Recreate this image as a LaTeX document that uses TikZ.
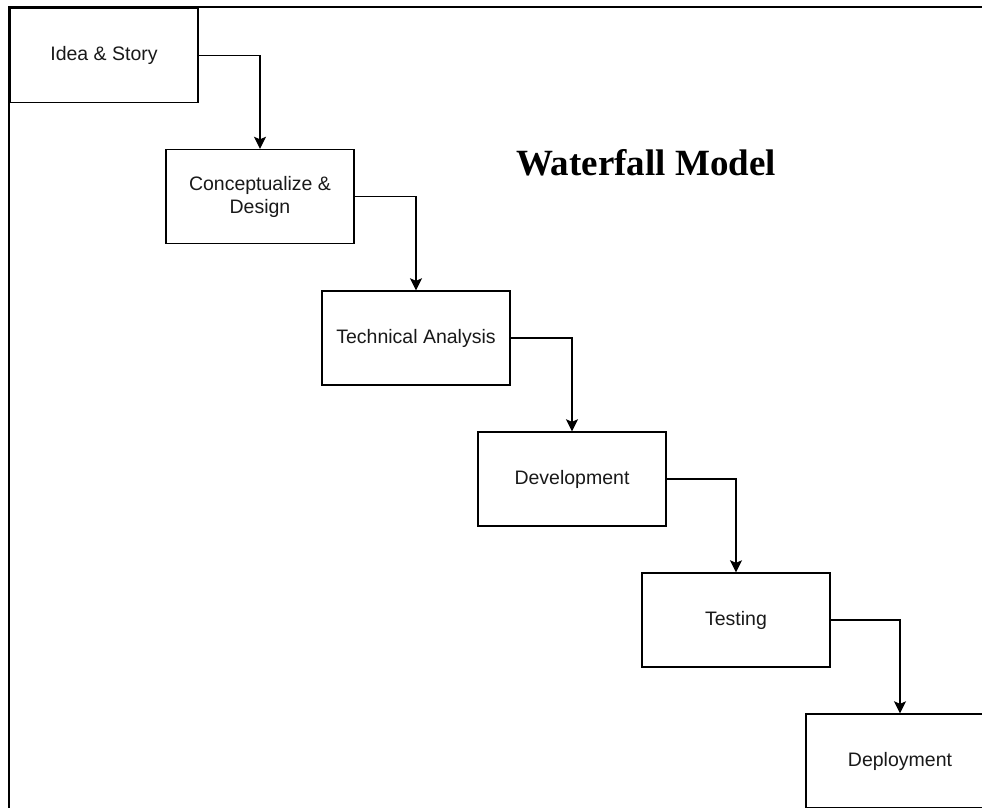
\documentclass[tikz,border=0pt]{standalone}
\usepackage{fontspec}
\setmainfont{Liberation Sans}
\newfontfamily\titlefont{Liberation Serif}
\usepackage{tikz}
\usetikzlibrary{arrows.meta}
\tikzset{
  phase/.style={draw, line width=1.4pt, minimum width=188pt, minimum height=94pt,
    inner sep=0pt, align=center, text=black!90,
    font=\fontsize{19.5}{23}\selectfont},
  flow/.style={line width=1.4pt, -{Stealth[length=12pt,width=12pt,inset=2.5pt]}}
}
\newcommand{\phase}[4]{\node[phase] (#1) at ( #2 , #3 ) {#4};}

\begin{document}
\begin{tikzpicture}[x=1pt,y=-1pt]
        \clip (0,0) rectangle (982,807);
        \fill[white] (0,0) rectangle (982,807);

        % frame
        \draw[line width=2.5pt] (9,7) rectangle (1020,840);

        % phases
        \phase{idea}{104}{55.5}{Idea \& Story}
        \phase{concept}{260}{196.5}{Conceptualize \&\\Design}
        \phase{analysis}{416}{338}{Technical Analysis}
        \phase{develop}{572}{479}{Development}
        \phase{testing}{736}{620}{Testing}
        \phase{deploy}{900}{761}{Deployment}

        % title
        \node[anchor=base, font=\titlefont\bfseries\fontsize{37}{40}\selectfont] (title) at (646,175) {Waterfall Model};

        % arrows
        \draw[flow] (idea.east) -| (concept.north);
        \draw[flow] (concept.east) -| (analysis.north);
        \draw[flow] (analysis.east) -| (develop.north);
        \draw[flow] (develop.east) -| (testing.north);
        \draw[flow] (testing.east) -| (deploy.north);

    \end{tikzpicture}
\end{document}
